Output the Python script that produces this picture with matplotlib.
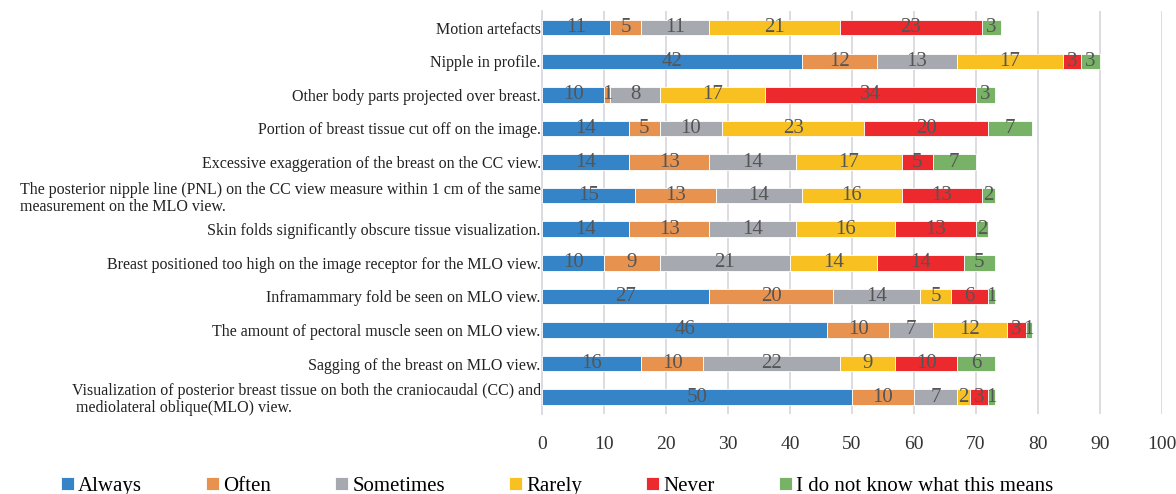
import matplotlib.pyplot as plt
import numpy as np

plt.rcParams['font.family'] = ['Liberation Serif', 'DejaVu Serif']

items = [
    "Motion artefacts",
    "Nipple in profile.",
    "Other body parts projected over breast.",
    "Portion of breast tissue cut off on the image.",
    "Excessive exaggeration of the breast on the CC view.",
    "The posterior nipple line (PNL) on the CC view measure within 1 cm of the same\nmeasurement on the MLO view.",
    "Skin folds significantly obscure tissue visualization.",
    "Breast positioned too high on the image receptor for the MLO view.",
    "Inframammary fold be seen on MLO view.",
    "The amount of pectoral muscle seen on MLO view.",
    "Sagging of the breast on MLO view.",
    "Visualization of posterior breast tissue on both the craniocaudal (CC) and\n mediolateral oblique(MLO) view.",
]
series = ["Always", "Often", "Sometimes", "Rarely", "Never", "I do not know what this means"]
always = [11, 42, 10, 14, 14, 15, 14, 10, 27, 46, 16, 50]
often = [5, 12, 1, 5, 13, 13, 13, 9, 20, 10, 10, 10]
sometimes = [11, 13, 8, 10, 14, 14, 14, 21, 14, 7, 22, 7]
rarely = [21, 17, 17, 23, 17, 16, 16, 14, 5, 12, 9, 2]
never = [23, 3, 34, 20, 5, 13, 13, 14, 6, 3, 10, 3]
dont_know = [3, 3, 3, 7, 7, 2, 2, 5, 1, 1, 6, 1]
colors = ["#3584c7", "#e8924f", "#a6aab0", "#f8c121", "#ec2a2e", "#77b266"]

fig = plt.figure(figsize=(11.76, 4.94), dpi=100)
ax = fig.add_axes([0.461, 0.162, 0.527, 0.816])

y = np.arange(len(items))
left = np.zeros(len(items))
for name, vals, c in zip(series, [always, often, sometimes, rarely, never, dont_know], colors):
    vals = np.array(vals)
    bars = ax.barh(y, vals, left=left, height=0.46, color=c, label=name,
                   edgecolor='white', linewidth=0.6, zorder=3)
    ax.bar_label(bars, labels=[str(v) for v in vals], label_type='center',
                 fontsize=15, color='#555555', zorder=4)
    left += vals

ax.set_xlim(0, 100)
ax.set_ylim(len(items) - 0.5, -0.5)
ax.set_xticks(np.arange(0, 101, 10))
ax.set_yticks(y)
ax.set_yticklabels(items, fontsize=11.5, color='#222222', linespacing=1.1)
for lab in ax.get_yticklabels():
    lab.set_multialignment('left')
ax.tick_params(axis='x', labelsize=14, pad=16, length=0, colors='#333333')
ax.tick_params(axis='y', length=0, pad=1)
ax.grid(axis='x', color='#d9d9de', linewidth=1.3, zorder=0)
for s in ['top', 'right', 'bottom']:
    ax.spines[s].set_visible(False)
ax.spines['left'].set_color('#d9d9de')
ax.spines['left'].set_linewidth(1.3)

fig.legend(loc='lower left', bbox_to_anchor=(0.036, -0.042), ncol=6, frameon=False,
           fontsize=15, handlelength=0.6, handleheight=0.6, handletextpad=0.2,
           columnspacing=3.1)

fig.savefig('out.png', dpi=100)
